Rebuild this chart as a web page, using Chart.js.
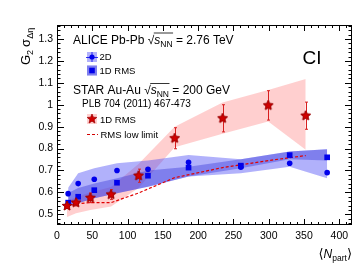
<!DOCTYPE html>
<html>
<head>
<meta charset="utf-8">
<script src="https://cdn.jsdelivr.net/npm/chart.js@4.4.1/dist/chart.umd.min.js"></script>
<style>
  html, body { margin: 0; padding: 0; background: #fff; }
  #wrap { width: 358px; height: 263px; }
</style>
</head>
<body>
<div id="wrap"><canvas id="chart" width="358" height="263"></canvas></div>
<script>
// ALICE Pb-Pb 2.76 TeV (centrality bins, ascending Npart)
const aliceNpart = [15.8, 30.0, 52.8, 85.0, 128.9, 186.4, 260.5, 329.7, 382.8];
const alice2D = [0.594, 0.64, 0.66, 0.70, 0.705, 0.737, 0.715, 0.733, 0.69];
const aliceRms = [0.553, 0.58, 0.61, 0.644, 0.676, 0.713, 0.722, 0.77, 0.76];
const band2DHigh = [0.621, 0.687, 0.71, 0.733, 0.745, 0.77, 0.751, 0.786, 0.797];
const band2DLow = [0.535, 0.55, 0.573, 0.596, 0.626, 0.672, 0.687, 0.717, 0.664];
const bandRmsHigh = [0.597, 0.62, 0.64, 0.664, 0.70, 0.717, 0.751, 0.786, 0.797];
const bandRmsLow = [0.535, 0.55, 0.573, 0.596, 0.626, 0.672, 0.71, 0.751, 0.745];

// STAR Au-Au 200 GeV
const starNpart = [14.2, 26.9, 47.3, 76.6, 115.5, 166.7, 234.6, 299.3, 352.4];
const starRms = [0.538, 0.553, 0.575, 0.59, 0.676, 0.847, 0.938, 0.997, 0.95];
const starErr = [0.01, 0.015, 0.022, 0.022, 0.03, 0.048, 0.062, 0.067, 0.062];
const starSysHigh = [0.56, 0.578, 0.60, 0.625, 0.73, 0.90, 1.01, 1.067, 1.117];
const starSysLow = [0.488, 0.505, 0.52, 0.535, 0.62, 0.806, 0.867, 0.923, 0.794];
const rmsLowLimit = [0.535, 0.548, 0.553, 0.553, 0.597, 0.667, 0.713, 0.745, 0.768];

// axis ticks
const xTicks = [0, 50, 100, 150, 200, 250, 300, 350, 400];
const yTicks = [0.5, 0.6, 0.7, 0.8, 0.9, 1.0, 1.1, 1.2, 1.3];

const FONT = '"Liberation Sans", Arial, Helvetica, sans-serif';
const BLUE = 'rgb(0, 0, 235)';
const RED = 'rgb(210, 0, 0)';
const PINK = 'rgba(255, 110, 110, 0.33)';
const LIGHT_BLUE = 'rgba(70, 70, 245, 0.42)';
const DARK_BLUE = 'rgba(60, 60, 220, 0.42)';

const pts = (xs, ys) => xs.map((x, i) => ({ x: x, y: ys[i] }));

function makeStar(r, fill, edge) {
    const size = Math.ceil(r * 2 + 2);
    const c = document.createElement('canvas');
    c.width = size;
    c.height = size;
    const g = c.getContext('2d');
    g.beginPath();
    for (let i = 0; i < 10; i++) {
        const rad = i % 2 ? r * 0.45 : r;
        const ang = -Math.PI / 2 + i * Math.PI / 5;
        g.lineTo(size / 2 + rad * Math.cos(ang), size / 2 + rad * Math.sin(ang));
    }
    g.closePath();
    g.fillStyle = fill;
    g.fill();
    g.strokeStyle = edge;
    g.lineWidth = 0.7;
    g.stroke();
    return c;
}
const starImg = makeStar(5, RED, 'rgb(150,0,0)');

// sqrt(s_NN) label drawn piece by piece
function sqrtLabel(ctx, x, y, pre, post) {
    ctx.font = '12px ' + FONT;
    ctx.fillText(pre, x, y);
    x += ctx.measureText(pre).width;
    ctx.fillText('\u221A', x, y);
    x += ctx.measureText('\u221A').width;
    const x0 = x;
    ctx.font = 'italic 12px ' + FONT;
    ctx.fillText('s', x, y);
    x += ctx.measureText('s').width;
    ctx.font = '8.5px ' + FONT;
    ctx.fillText('NN', x, y + 3);
    x += ctx.measureText('NN').width;
    ctx.lineWidth = 0.8;
    ctx.beginPath();
    ctx.moveTo(x0 - 0.5, y - 10.5);
    ctx.lineTo(x + 0.5, y - 10.5);
    ctx.stroke();
    ctx.font = '12px ' + FONT;
    ctx.fillText(post, x, y);
}

// error bars for STAR points, placed with the chart scales
const errorBars = {
    id: 'errorBars',
    afterDatasetsDraw(chart) {
        const { ctx, scales: { x, y } } = chart;
        ctx.save();
        ctx.strokeStyle = 'rgb(215, 30, 30)';
        ctx.lineWidth = 1;
        starNpart.forEach((n, i) => {
            const px = Math.round(x.getPixelForValue(n)) + 0.5;
            const top = y.getPixelForValue(starRms[i] + starErr[i]);
            const bot = y.getPixelForValue(starRms[i] - starErr[i]);
            ctx.beginPath();
            ctx.moveTo(px, top);
            ctx.lineTo(px, bot);
            ctx.moveTo(px - 1.5, top);
            ctx.lineTo(px + 1.5, top);
            ctx.moveTo(px - 1.5, bot);
            ctx.lineTo(px + 1.5, bot);
            ctx.stroke();
        });
        // redraw star markers over their bars
        starNpart.forEach((n, i) => {
            const px = x.getPixelForValue(n);
            const py = y.getPixelForValue(starRms[i]);
            ctx.drawImage(starImg, px - starImg.width / 2, py - starImg.height / 2);
        });
        ctx.restore();
    }
};

// ROOT-like frame with inward ticks on all four sides
const frame = {
    id: 'frame',
    afterDraw(chart) {
        const { ctx, chartArea: a, scales: { x, y } } = chart;
        ctx.save();
        ctx.strokeStyle = '#000';
        ctx.lineWidth = 1;
        ctx.strokeRect(a.left + 0.5, a.top + 0.5, a.right - a.left - 1, a.bottom - a.top - 1);
        ctx.beginPath();
        for (let v = 0; v <= x.max; v += 10) {
            const px = Math.round(x.getPixelForValue(v)) + 0.5;
            const len = v % 50 === 0 ? 6 : 3;
            ctx.moveTo(px, a.bottom);
            ctx.lineTo(px, a.bottom - len);
            ctx.moveTo(px, a.top);
            ctx.lineTo(px, a.top + len);
        }
        for (let i = 23; i <= 68; i++) {
            const py = Math.round(y.getPixelForValue(i / 50)) + 0.5;
            const len = i % 5 === 0 ? 7 : 3.5;
            ctx.moveTo(a.left, py);
            ctx.lineTo(a.left + len, py);
            ctx.moveTo(a.right, py);
            ctx.lineTo(a.right - len, py);
        }
        ctx.stroke();

        // legend and annotations
        ctx.fillStyle = '#000';
        ctx.strokeStyle = '#000';
        sqrtLabel(ctx, 73, 43.5, 'ALICE Pb-Pb ', ' = 2.76 TeV');
        sqrtLabel(ctx, 73, 94, 'STAR Au-Au ', ' = 200 GeV');
        ctx.font = '10px ' + FONT;
        ctx.fillText('PLB 704 (2011) 467-473', 82, 106.5);

        ctx.font = '9.5px ' + FONT;
        ctx.fillText('2D', 99.5, 60);
        ctx.fillText('1D RMS', 99.5, 74);
        ctx.fillText('1D RMS', 100, 122.5);
        ctx.fillText('RMS low limit', 100.5, 138.3);

        // legend swatches
        ctx.fillStyle = LIGHT_BLUE;
        ctx.fillRect(87, 52, 10, 10);
        ctx.fillStyle = LIGHT_BLUE;
        ctx.fillRect(87, 65.5, 10, 10);
        ctx.fillStyle = DARK_BLUE;
        ctx.fillRect(87, 65.5, 10, 10);
        ctx.fillStyle = PINK;
        ctx.fillRect(87, 114, 10, 10);

        ctx.strokeStyle = BLUE;
        ctx.beginPath();
        ctx.moveTo(86, 57.5); ctx.lineTo(98, 57.5);
        ctx.moveTo(92, 52); ctx.lineTo(92, 62);
        ctx.stroke();
        ctx.fillStyle = BLUE;
        ctx.beginPath();
        ctx.arc(92, 57, 2.6, 0, Math.PI * 2);
        ctx.fill();
        ctx.fillRect(89.2, 67.7, 5.6, 5.6);
        ctx.drawImage(starImg, 92 - starImg.width / 2, 119 - starImg.height / 2);

        ctx.strokeStyle = RED;
        ctx.lineWidth = 1.2;
        ctx.setLineDash([3, 2]);
        ctx.beginPath();
        ctx.moveTo(87, 134.5); ctx.lineTo(98, 134.5);
        ctx.stroke();
        ctx.setLineDash([]);

        // CI tag
        ctx.fillStyle = '#000';
        ctx.font = '19px ' + FONT;
        ctx.textAlign = 'center';
        ctx.fillText('CI', 312, 63.5);
        ctx.textAlign = 'left';

        // y axis title
        ctx.save();
        ctx.translate(30, 65);
        ctx.rotate(-Math.PI / 2);
        let t = 0;
        ctx.font = '13px ' + FONT;
        ctx.fillText('G', t, 0);
        t += ctx.measureText('G').width;
        ctx.font = '9px ' + FONT;
        ctx.fillText('2', t, 3);
        t += ctx.measureText('2').width + 3;
        ctx.font = '13px ' + FONT;
        ctx.fillText('\u03C3', t, 0);
        t += ctx.measureText('\u03C3').width;
        ctx.font = '9px ' + FONT;
        ctx.fillText('\u0394\u03B7', t, 3);
        ctx.restore();

        // x axis title, right aligned to the frame
        const parts = [
            { s: '\u27E8', f: '13px "DejaVu Sans", ' + FONT, dy: 0 },
            { s: 'N', f: 'italic 12px ' + FONT, dy: 0 },
            { s: 'part', f: '8.5px ' + FONT, dy: 3 },
            { s: '\u27E9', f: '13px "DejaVu Sans", ' + FONT, dy: 0 }
        ];
        let w = 0;
        parts.forEach(p => { ctx.font = p.f; w += ctx.measureText(p.s).width; });
        let xx = a.right - w;
        parts.forEach(p => {
            ctx.font = p.f;
            ctx.fillText(p.s, xx, 257.5 + p.dy);
            xx += ctx.measureText(p.s).width;
        });
        ctx.restore();
    }
};

const bandStyle = { borderWidth: 0, pointRadius: 0, tension: 0 };

new Chart(document.getElementById('chart').getContext('2d'), {
    type: 'line',
    data: {
        datasets: [
            { data: pts(starNpart, starSysHigh), fill: '+1', backgroundColor: PINK, order: 20, ...bandStyle },
            { data: pts(starNpart, starSysLow), fill: false, order: 20, ...bandStyle },
            { data: pts(aliceNpart, band2DHigh), fill: '+1', backgroundColor: LIGHT_BLUE, order: 15, ...bandStyle },
            { data: pts(aliceNpart, band2DLow), fill: false, order: 15, ...bandStyle },
            { data: pts(aliceNpart, bandRmsHigh), fill: '+1', backgroundColor: DARK_BLUE, order: 12, ...bandStyle },
            { data: pts(aliceNpart, bandRmsLow), fill: false, order: 12, ...bandStyle },
            {
                label: 'RMS low limit',
                data: pts(starNpart, rmsLowLimit),
                borderColor: 'rgb(225, 0, 0)',
                borderWidth: 1.2,
                borderDash: [3, 2],
                pointRadius: 0,
                fill: false,
                tension: 0,
                order: 8
            },
            {
                label: 'ALICE 1D RMS',
                data: pts(aliceNpart, aliceRms),
                showLine: false,
                pointStyle: 'rect',
                pointRadius: 4,
                backgroundColor: BLUE,
                borderColor: BLUE,
                borderWidth: 0,
                order: 4
            },
            {
                label: 'ALICE 2D',
                data: pts(aliceNpart, alice2D),
                showLine: false,
                pointStyle: 'circle',
                pointRadius: 2.8,
                backgroundColor: BLUE,
                borderColor: BLUE,
                borderWidth: 0,
                order: 3
            },
            {
                label: 'STAR 1D RMS',
                data: pts(starNpart, starRms),
                showLine: false,
                pointStyle: starImg,
                pointRadius: 5,
                order: 2
            }
        ]
    },
    options: {
        responsive: false,
        animation: false,
        layout: { padding: { left: 0, right: 5, top: 25, bottom: 0 } },
        plugins: {
            legend: { display: false },
            tooltip: { enabled: false }
        },
        scales: {
            x: {
                type: 'linear',
                min: 0,
                max: 418,
                afterBuildTicks: s => { s.ticks = xTicks.map(v => ({ value: v })); },
                afterFit: s => { s.height = 38; },
                grid: { display: false, drawTicks: false },
                border: { display: false },
                ticks: { color: '#000', font: { family: FONT, size: 10.5 }, padding: 5, maxRotation: 0, autoSkip: false }
            },
            y: {
                type: 'linear',
                min: 0.451,
                max: 1.364,
                afterBuildTicks: s => { s.ticks = yTicks.map(v => ({ value: v })); },
                afterFit: s => { s.width = 57; },
                grid: { display: false, drawTicks: false },
                border: { display: false },
                ticks: {
                    color: '#000',
                    font: { family: FONT, size: 10.5 },
                    padding: 4,
                    autoSkip: false,
                    callback: v => String(Math.round(v * 10) / 10)
                }
            }
        }
    },
    plugins: [errorBars, frame]
});
</script>
</body>
</html>
